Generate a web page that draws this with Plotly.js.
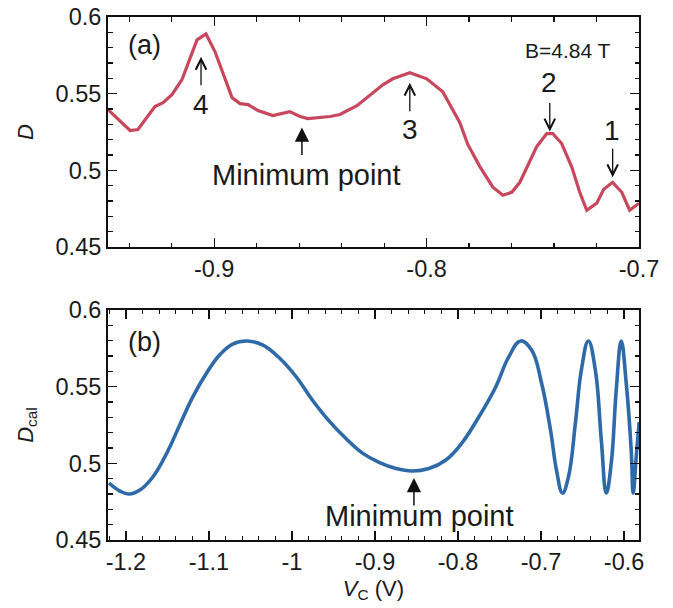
<!DOCTYPE html>
<html>
<head>
<meta charset="utf-8">
<script src="https://cdn.plot.ly/plotly-3.0.1.min.js"></script>
<style>html,body{margin:0;padding:0;background:#fff;}#chart{width:673px;height:608px;}</style>
</head>
<body>
<div id="chart"></div>
<script>
// Panel (a): measured D vs V_C
const vcMeasured = [-0.95, -0.9396, -0.9359, -0.9279, -0.9241, -0.9199, -0.9152, -0.9081, -0.9039, -0.8996,
  -0.8916, -0.8878, -0.8841, -0.8794, -0.8724, -0.8644, -0.8596, -0.8559, -0.8455, -0.8408,
  -0.8328, -0.8267, -0.8206, -0.8159, -0.8079, -0.7999, -0.7924, -0.7844, -0.7806, -0.775,
  -0.7688, -0.7641, -0.7599, -0.7561, -0.7481, -0.7434, -0.7406, -0.7364, -0.7316, -0.7279,
  -0.7246, -0.7199, -0.7166, -0.7124, -0.7081, -0.7044, -0.7];
const dMeasured = [0.5396, 0.526, 0.5266, 0.5416, 0.5442, 0.5494, 0.5591, 0.5851, 0.589, 0.5773,
  0.5474, 0.5435, 0.5429, 0.539, 0.5357, 0.5383, 0.5351, 0.5338, 0.5351, 0.5364,
  0.5422, 0.5487, 0.5558, 0.5597, 0.5636, 0.5597, 0.5513, 0.5312, 0.5169, 0.5026,
  0.489, 0.4838, 0.4857, 0.4922, 0.5156, 0.524, 0.524, 0.5175, 0.502, 0.4857,
  0.474, 0.4786, 0.4877, 0.4922, 0.4857, 0.474, 0.4786];

// Panel (b): calculated D_cal vs V_C
const vcCalc = [-1.2204, -1.2072, -1.1964, -1.1832, -1.1676, -1.1508, -1.1352, -1.1196, -1.1028, -1.0872,
  -1.0715, -1.0535, -1.0355, -1.0151, -0.9947, -0.9755, -0.9551, -0.9347, -0.9155, -0.8951,
  -0.8747, -0.8555, -0.8351, -0.8146, -0.7954, -0.775, -0.7546, -0.739, -0.7246, -0.7114,
  -0.6994, -0.6886, -0.6814, -0.6742, -0.667, -0.6586, -0.6514, -0.643, -0.6346, -0.6274,
  -0.6214, -0.6154, -0.6094, -0.6034, -0.5974, -0.5914, -0.589, -0.5854, -0.5818];
const dCalc = [0.4871, 0.4819, 0.48, 0.4826, 0.4911, 0.5067, 0.525, 0.5432, 0.5589, 0.5706,
  0.5778, 0.5798, 0.5772, 0.5687, 0.5563, 0.5413, 0.5275, 0.516, 0.5068, 0.5006,
  0.4966, 0.495, 0.4966, 0.5022, 0.5132, 0.5302, 0.5498, 0.5693, 0.5798, 0.5739,
  0.5524, 0.5217, 0.4956, 0.4806, 0.4911, 0.5263, 0.5609, 0.5798, 0.5609, 0.5152,
  0.4806, 0.5002, 0.5478, 0.5798, 0.5524, 0.5087, 0.4806, 0.5041, 0.5269];

// Tick labels
const xTopTickVals = [-0.9, -0.8, -0.7];
const xTopTickText = ['-0.9', '-0.8', '-0.7'];
const xBotTickVals = [-1.2, -1.1, -1.0, -0.9, -0.8, -0.7, -0.6];
const xBotTickText = ['-1.2', '-1.1', '-1', '-0.9', '-0.8', '-0.7', '-0.6'];
const yTickVals = [0.45, 0.5, 0.55, 0.6];
const yTickText = ['0.45', '0.5', '0.55', '0.6'];

const FONT = 'Liberation Sans, Arial, sans-serif';
const TXT = '#1a1a1a';

function axisBase(extra) {
  return Object.assign({
    showline: true, linecolor: '#111', linewidth: 2, mirror: 'allticks',
    ticks: 'inside', ticklen: 9, tickwidth: 1.2, tickcolor: '#111',
    showgrid: false, zeroline: false, tickmode: 'array',
    tickfont: {family: FONT, size: 23.5, color: TXT}
  }, extra);
}

const traces = [
  {x: vcMeasured, y: dMeasured, xaxis: 'x', yaxis: 'y', mode: 'lines',
   line: {color: '#c9475c', width: 3.2}, hoverinfo: 'skip'},
  {x: vcCalc, y: dCalc, xaxis: 'x2', yaxis: 'y2', mode: 'lines',
   line: {color: '#2e6aa8', width: 3.6, shape: 'spline', smoothing: 1.2}, hoverinfo: 'skip'}
];

function label(x, y, xref, yref, text, size) {
  return {x: x, y: y, xref: xref, yref: yref, text: text, showarrow: false,
    xanchor: 'center', yanchor: 'middle', font: {family: FONT, size: size, color: TXT}};
}
function arrow(x, y, xref, yref, ay, head, size, width) {
  return {x: x, y: y, xref: xref, yref: yref, text: '', showarrow: true, ax: 0, ay: ay,
    arrowhead: head, arrowsize: size, arrowwidth: width, arrowcolor: '#111'};
}

const annotations = [
  label(-0.9326, 0.5818, 'x', 'y', '(a)', 27),
  label(-0.7335, 0.5779, 'x', 'y', 'B=4.84 T', 21),
  arrow(-0.9062, 0.574, 'x', 'y', 30, 5, 1.6, 1.3),
  label(-0.9062, 0.5429, 'x', 'y', '4', 28),
  arrow(-0.8079, 0.5571, 'x', 'y', 30, 5, 1.6, 1.3),
  label(-0.8079, 0.5266, 'x', 'y', '3', 28),
  arrow(-0.742, 0.5253, 'x', 'y', -30, 5, 1.6, 1.3),
  label(-0.7425, 0.5571, 'x', 'y', '2', 28),
  arrow(-0.7124, 0.4955, 'x', 'y', -30, 5, 1.6, 1.3),
  label(-0.7128, 0.526, 'x', 'y', '1', 28),
  arrow(-0.8587, 0.5279, 'x', 'y', 29, 2, 1.9, 1.5),
  label(-0.8564, 0.4968, 'x', 'y', 'Minimum point', 29),
  label(-1.1772, 0.5791, 'x2', 'y2', '(b)', 27),
  arrow(-0.8531, 0.4904, 'x2', 'y2', 29, 2, 1.9, 1.5),
  label(-0.8459, 0.4656, 'x2', 'y2', 'Minimum point', 29)
];

const layout = {
  width: 673, height: 608,
  margin: {l: 108, r: 34, t: 17, b: 68},
  paper_bgcolor: '#fff', plot_bgcolor: '#fff',
  showlegend: false,
  font: {family: FONT, color: TXT},
  xaxis: axisBase({anchor: 'y', range: [-0.95, -0.7], tickvals: xTopTickVals, ticktext: xTopTickText,
    minor: {tickmode: 'linear', tick0: 0, dtick: 0.02, ticks: 'inside', ticklen: 4.5, tickwidth: 1.2, tickcolor: '#111'}}),
  yaxis: axisBase({anchor: 'x', domain: [0.5602, 1], range: [0.45, 0.6], tickvals: yTickVals, ticktext: yTickText,
    minor: {tickmode: 'linear', tick0: 0, dtick: 0.01, ticks: 'inside', ticklen: 4.5, tickwidth: 1.2, tickcolor: '#111'},
    title: {text: '<i>D</i>', font: {family: FONT, size: 22, color: TXT}, standoff: 16}}),
  xaxis2: axisBase({anchor: 'y2', range: [-1.2216, -0.582], tickvals: xBotTickVals, ticktext: xBotTickText,
    minor: {tickmode: 'linear', tick0: 0, dtick: 0.02, ticks: 'inside', ticklen: 4.5, tickwidth: 1.2, tickcolor: '#111'},
    title: {text: '<i>V</i><sub>C</sub> (V)', font: {family: FONT, size: 22, color: TXT}, standoff: 6}}),
  yaxis2: axisBase({anchor: 'x2', domain: [0, 0.4398], range: [0.45, 0.6], tickvals: yTickVals, ticktext: yTickText,
    minor: {tickmode: 'linear', tick0: 0, dtick: 0.01, ticks: 'inside', ticklen: 4.5, tickwidth: 1.2, tickcolor: '#111'},
    title: {text: '<i>D</i><sub>cal</sub>', font: {family: FONT, size: 22, color: TXT}, standoff: 16}}),
  annotations: annotations
};

Plotly.newPlot('chart', traces, layout, {staticPlot: true, displayModeBar: false});
</script>
</body>
</html>
